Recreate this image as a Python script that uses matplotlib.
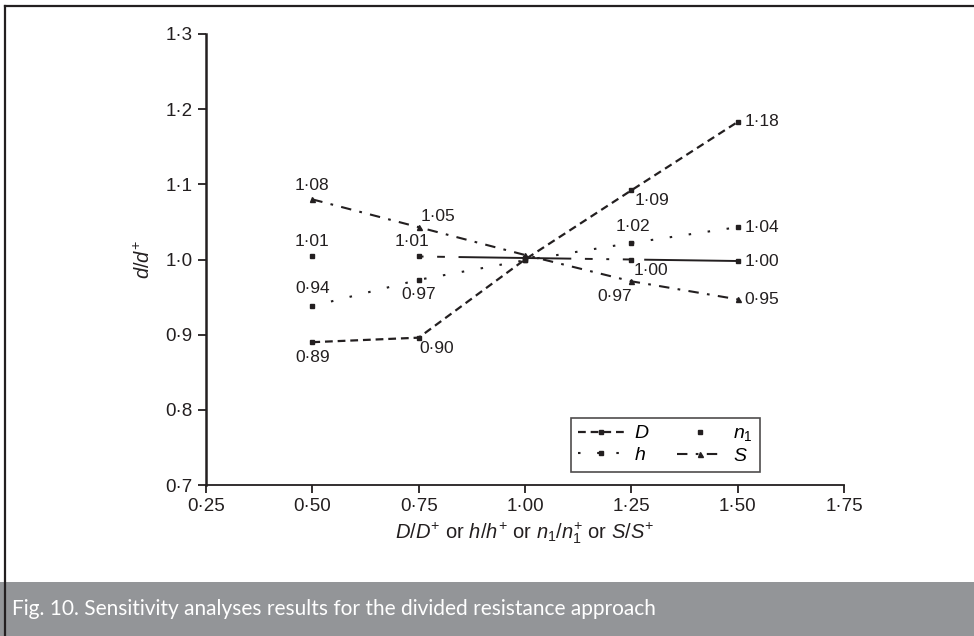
import matplotlib
matplotlib.use('Agg')
import matplotlib.pyplot as plt
from matplotlib.patches import Rectangle
from matplotlib.lines import Line2D

plt.rcParams['font.family'] = ['Liberation Sans', 'DejaVu Sans']
plt.rcParams['mathtext.fontset'] = 'custom'
plt.rcParams['mathtext.rm'] = 'Liberation Sans'
plt.rcParams['mathtext.it'] = 'Liberation Sans:italic'

# data
x = [0.50, 0.75, 1.00, 1.25, 1.50]
d_D = [0.890, 0.896, 1.000, 1.092, 1.183]
d_n1 = [1.004, 1.004, 1.002, 1.000, 0.998]
d_h = [0.938, 0.973, 0.999, 1.022, 1.043]
d_S = [1.080, 1.043, 1.006, 0.971, 0.947]

lab_D = ['0·89', '0·90', None, '1·09', '1·18']
lab_n1 = ['1·01', '1·01', None, '1·00', '1·00']
lab_h = ['0·94', '0·97', None, '1·02', '1·04']
lab_S = ['1·08', '1·05', None, '0·97', '0·95']

xticks = [0.25, 0.50, 0.75, 1.00, 1.25, 1.50, 1.75]
yticks = [0.7, 0.8, 0.9, 1.0, 1.1, 1.2, 1.3]

ink = '#231f20'

fig = plt.figure(figsize=(9.74, 6.36), dpi=100)
ax = fig.add_axes([206/974, 1-485/636, (844-206)/974, (485-34)/636])

# series
ax.plot(x, d_D, color=ink, lw=1.6, dashes=(3.5, 2.2), marker='s', ms=3.2,
        label='$D$')
ax.plot(x[1:], d_n1[1:], color=ink, lw=1.4,
        linestyle=(75, (58, 7, 4, 7, 1.5, 7, 4, 7)))
ax.plot(x, d_n1, color=ink, lw=0, marker='s', ms=3.2, label='$n_1$')
ax.plot(x, d_h, color=ink, lw=1.5, dashes=(1.2, 8), marker='s', ms=3.2,
        label='$h$')
ax.plot(x, d_S, color=ink, lw=1.5, dashes=(5, 4, 1.3, 4), marker='^', ms=3.6,
        label='$S$')

# point labels (offsets in points)
off_D = [(0, -11, 'center'), (13, -8, 'center'), None, (15, -7, 'center'), (5, 0, 'left')]
off_n1 = [(0, 11, 'center'), (-5, 10.5, 'center'), None, (14, -8, 'center'), (5, 0, 'left')]
off_h = [(0, 12.5, 'center'), (0, -10.5, 'center'), None, (1.5, 11.5, 'center'), (5, 0, 'left')]
off_S = [(0, 10, 'center'), (14, 7.5, 'center'), None, (-12, -11, 'center'), (5, 0, 'left')]

for ys, labs, offs in [(d_D, lab_D, off_D), (d_n1, lab_n1, off_n1),
                       (d_h, lab_h, off_h), (d_S, lab_S, off_S)]:
    for xi, yi, t, o in zip(x, ys, labs, offs):
        if t is None:
            continue
        ax.annotate(t, (xi, yi), xytext=(o[0], o[1]), textcoords='offset points',
                    ha=o[2], va='center', fontsize=12.5, color=ink)

ax.set_xlim(0.25, 1.75)
ax.set_ylim(0.7, 1.3)
ax.set_xticks(xticks)
ax.set_yticks(yticks)
ax.set_xticklabels([('%.2f' % v).replace('.', '·') for v in xticks])
ax.set_yticklabels([('%.1f' % v).replace('.', '·') for v in yticks])
ax.tick_params(axis='both', labelsize=13.5, colors=ink, length=6, width=1.3,
               direction='out')
ax.spines['top'].set_visible(False)
ax.spines['right'].set_visible(False)
ax.spines['left'].set_linewidth(1.8)
ax.spines['bottom'].set_linewidth(1.3)
ax.spines['left'].set_color(ink)
ax.spines['bottom'].set_color(ink)

ax.set_xlabel('$D/D^{+}$ or $h/h^{+}$ or $n_1/n_1^{+}$ or $S/S^{+}$',
              fontsize=14.5, color=ink, labelpad=4)
ax.set_ylabel('$d/d^{+}$', fontsize=14.5, color=ink, labelpad=8)

h, l = ax.get_legend_handles_labels()
order = [0, 2, 1, 3]
leg = ax.legend([h[i] for i in order], [l[i] for i in order], ncol=2,
                loc='upper left', bbox_to_anchor=((571-206)/638, (485-418)/451),
                fontsize=14, frameon=True, fancybox=False,
                edgecolor=ink, handlelength=2.4, handletextpad=0.5,
                columnspacing=1.4, borderaxespad=0, labelspacing=0.2,
                borderpad=0.35)
leg.get_frame().set_linewidth(1.2)

# caption band and page frame
fig.patches.append(Rectangle((0, 0), 1, (636-582)/636, transform=fig.transFigure,
                             facecolor='#939598', edgecolor='none', zorder=0))
fig.add_artist(Line2D([5/974, 5/974], [0, 1-6/636], color=ink, lw=1.6,
                      transform=fig.transFigure))
fig.add_artist(Line2D([5/974, 1], [1-6/636, 1-6/636], color=ink, lw=1.6,
                      transform=fig.transFigure))
fig.text(12/974, (636-609)/636, 'Fig. 10. Sensitivity analyses results for the divided resistance approach',
         color='white', fontsize=15, family='Lato', va='center', ha='left')

fig.savefig('out.png', dpi=100)
